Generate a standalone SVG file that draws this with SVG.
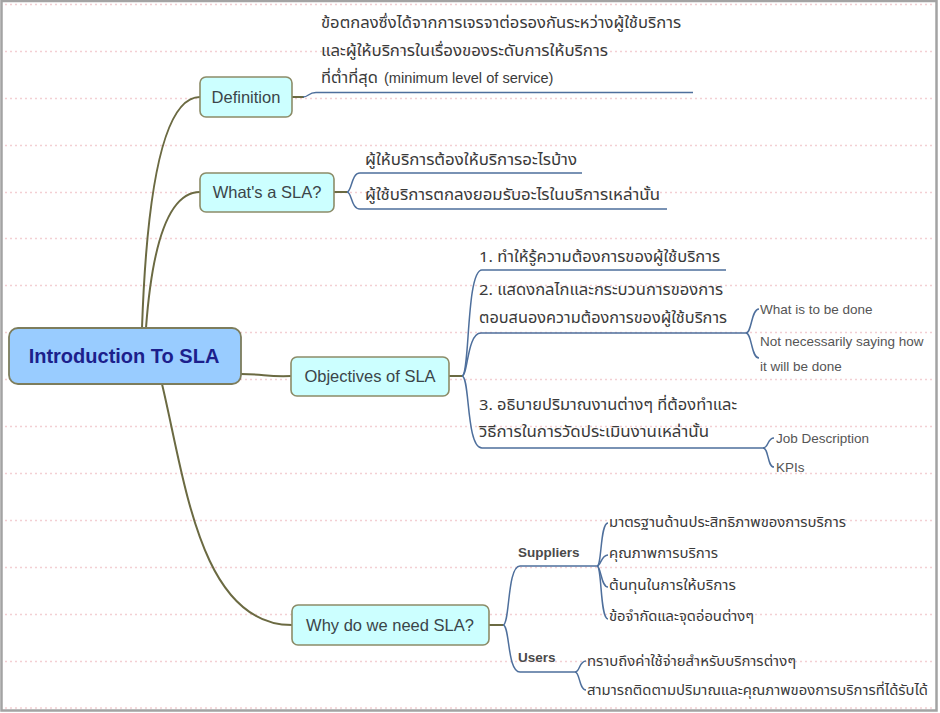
<svg xmlns="http://www.w3.org/2000/svg" width="940" height="713" viewBox="0 0 940 713">
<style>
.grid{stroke:#f3cfd3;stroke-width:1.5;stroke-dasharray:2 3;fill:none}
.root rect{fill:#99ccff;stroke:#7d7d5c;stroke-width:1.8}
.root text{font-family:"Liberation Sans",Arial,sans-serif;font-weight:bold;font-size:20px;fill:#1c1f8c;text-anchor:middle}
.l1 rect{fill:#ccffff;stroke:#8c8c68;stroke-width:1.6}
.l1 text{font-family:"Liberation Sans",Arial,sans-serif;font-size:16.5px;fill:#3b4549;text-anchor:middle}
.th{font-family:"Noto Sans Thai","Noto Sans","DejaVu Sans","Liberation Sans",sans-serif;font-size:15px;fill:#3a3a3a}
.th2{font-family:"Noto Sans Thai","Noto Sans","DejaVu Sans","Liberation Sans",sans-serif;font-size:13.5px;fill:#3a3a3a}
.lat{font-family:"Liberation Sans",Arial,sans-serif;font-size:14.6px}
.en{font-family:"Liberation Sans",Arial,sans-serif;font-size:13.5px;fill:#555}
.grp{font-family:"Liberation Sans",Arial,sans-serif;font-size:13.5px;font-weight:bold;fill:#4a4a4a}
.ol{fill:none;stroke:#6b6a42;stroke-width:2}
.bl{fill:none;stroke:#4e6f9c;stroke-width:1.5}
</style>
<rect x="0" y="0" width="940" height="713" fill="#ffffff"/>
<g id="background">
<path class="grid" d="M5,4.5H935M5,51.5H935M5,98.5H935M5,145.5H935M5,192.5H935M5,238.5H935M5,285.5H935M5,332.5H935M5,379.5H935M5,426.5H935M5,473.5H935M5,520.5H935M5,567.5H935M5,614.5H935M5,661.5H935M5,708H935"/>
<rect x="1.5" y="1" width="935" height="709.5" fill="none" stroke="#a3a3a3" stroke-width="2.5"/>
</g>
<g id="connectors">
<path class="ol" d="M142,328 Q150,97 200,97"/>
<path class="ol" d="M146,328 Q156,192 200,192"/>
<path class="ol" d="M241,374 C265,374 266,377 291,376"/>
<path class="ol" d="M162,384 C185,480 200,625 292,625"/>
<path class="ol" d="M292,97 L304,97"/>
<path class="ol" d="M334,192 L347,192"/>
<path class="ol" d="M449,376 L462,376"/>
<path class="ol" d="M489,625 L503,625"/>
<path class="bl" d="M303,97 C309,97 308,92.5 316,92.5 L693,92.5"/>
<path class="bl" d="M347,192 C352,192 351,173 360,173 L582,173"/>
<path class="bl" d="M347,192 C352,192 351,209 360,209 L667,209"/>
<path class="bl" d="M462,376 C470,376 466,270 482,270 L726,270"/>
<path class="bl" d="M462,376 C468,376 467,333 481,333 L748,333"/>
<path class="bl" d="M462,376 C470,376 466,448 482,448 L765,448"/>
<path class="bl" d="M746,333 C752,333 751,309 759,309"/>
<path class="bl" d="M746,333 C752,333 751,358 759,358"/>
<path class="bl" d="M763,448 C769,448 767,438 774,438"/>
<path class="bl" d="M763,448 C769,448 767,467 774,467"/>
<path class="bl" d="M503,625 C510,625 507,566 520,566 L597,566"/>
<path class="bl" d="M503,625 C510,625 507,672 520,672 L575,672"/>
<path class="bl" d="M597,566 C602,566 600,523 608,523"/>
<path class="bl" d="M597,566 C601,566 601,555 608,555"/>
<path class="bl" d="M597,566 C601,566 601,587 608,587"/>
<path class="bl" d="M597,566 C602,566 600,619 608,619"/>
<path class="bl" d="M575,672 C580,672 579,661 586,661"/>
<path class="bl" d="M575,672 C580,672 579,690 586,690"/>
</g>
<g id="root" class="root">
<rect x="9" y="328" width="232" height="56" rx="9"/>
<text x="124" y="363">Introduction To SLA</text>
</g>
<g id="definition" class="l1">
<rect x="200" y="77" width="92" height="40" rx="6"/>
<text x="246" y="103">Definition</text>
</g>
<g id="definition-text">
<text class="th" x="321" y="28" textLength="360" lengthAdjust="spacingAndGlyphs">ข้อตกลงซึ่งได้จากการเจรจาต่อรองกันระหว่างผู้ใช้บริการ</text>
<text class="th" x="321" y="56" textLength="287" lengthAdjust="spacingAndGlyphs">และผู้ให้บริการในเรื่องของระดับการให้บริการ</text>
<text class="th" x="321" y="83"><tspan textLength="57" lengthAdjust="spacingAndGlyphs">ที่ต่ำที่สุด</tspan><tspan class="lat" x="384">(minimum level of service)</tspan></text>
</g>
<g id="whats-sla" class="l1">
<rect x="200" y="173" width="134" height="39" rx="6"/>
<text x="267" y="198">What's a SLA?</text>
</g>
<g id="whats-1"><text class="th" x="365" y="165" textLength="212" lengthAdjust="spacingAndGlyphs">ผู้ให้บริการต้องให้บริการอะไรบ้าง</text></g>
<g id="whats-2"><text class="th" x="365" y="200" textLength="295" lengthAdjust="spacingAndGlyphs">ผู้ใช้บริการตกลงยอมรับอะไรในบริการเหล่านั้น</text></g>
<g id="objectives" class="l1">
<rect x="291" y="357" width="158" height="39" rx="6"/>
<text x="370" y="382">Objectives of SLA</text>
</g>
<g id="obj-1"><text class="th" x="479" y="262" textLength="241" lengthAdjust="spacingAndGlyphs">1. ทำให้รู้ความต้องการของผู้ใช้บริการ</text></g>
<g id="obj-2">
<text class="th" x="479" y="295" textLength="244" lengthAdjust="spacingAndGlyphs">2. แสดงกลไกและกระบวนการของการ</text>
<text class="th" x="479" y="323" textLength="248" lengthAdjust="spacingAndGlyphs">ตอบสนองความต้องการของผู้ใช้บริการ</text>
</g>
<g id="obj-2-a"><text class="en" x="760" y="314">What is to be done</text></g>
<g id="obj-2-b">
<text class="en" x="760" y="346">Not necessarily saying how</text>
<text class="en" x="760" y="371">it will be done</text>
</g>
<g id="obj-3">
<text class="th" x="479" y="410" textLength="258" lengthAdjust="spacingAndGlyphs">3. อธิบายปริมาณงานต่างๆ ที่ต้องทำและ</text>
<text class="th" x="479" y="437" textLength="230" lengthAdjust="spacingAndGlyphs">วิธีการในการวัดประเมินงานเหล่านั้น</text>
</g>
<g id="obj-3-a"><text class="en" x="776" y="443">Job Description</text></g>
<g id="obj-3-b"><text class="en" x="776" y="472">KPIs</text></g>
<g id="why" class="l1">
<rect x="292" y="605" width="197" height="40" rx="6"/>
<text x="390" y="631">Why do we need SLA?</text>
</g>
<g id="suppliers"><text class="grp" x="518" y="557">Suppliers</text></g>
<g id="sup-1"><text class="th2" x="609" y="527" textLength="237" lengthAdjust="spacingAndGlyphs">มาตรฐานด้านประสิทธิภาพของการบริการ</text></g>
<g id="sup-2"><text class="th2" x="609" y="558" textLength="109" lengthAdjust="spacingAndGlyphs">คุณภาพการบริการ</text></g>
<g id="sup-3"><text class="th2" x="609" y="590" textLength="127" lengthAdjust="spacingAndGlyphs">ต้นทุนในการให้บริการ</text></g>
<g id="sup-4"><text class="th2" x="609" y="621" textLength="145" lengthAdjust="spacingAndGlyphs">ข้อจำกัดและจุดอ่อนต่างๆ</text></g>
<g id="users"><text class="grp" x="518" y="662">Users</text></g>
<g id="usr-1"><text class="th2" x="587" y="666" textLength="209" lengthAdjust="spacingAndGlyphs">ทราบถึงค่าใช้จ่ายสำหรับบริการต่างๆ</text></g>
<g id="usr-2"><text class="th2" x="587" y="695" textLength="341" lengthAdjust="spacingAndGlyphs">สามารถติดตามปริมาณและคุณภาพของการบริการที่ได้รับได้</text></g>
</svg>
